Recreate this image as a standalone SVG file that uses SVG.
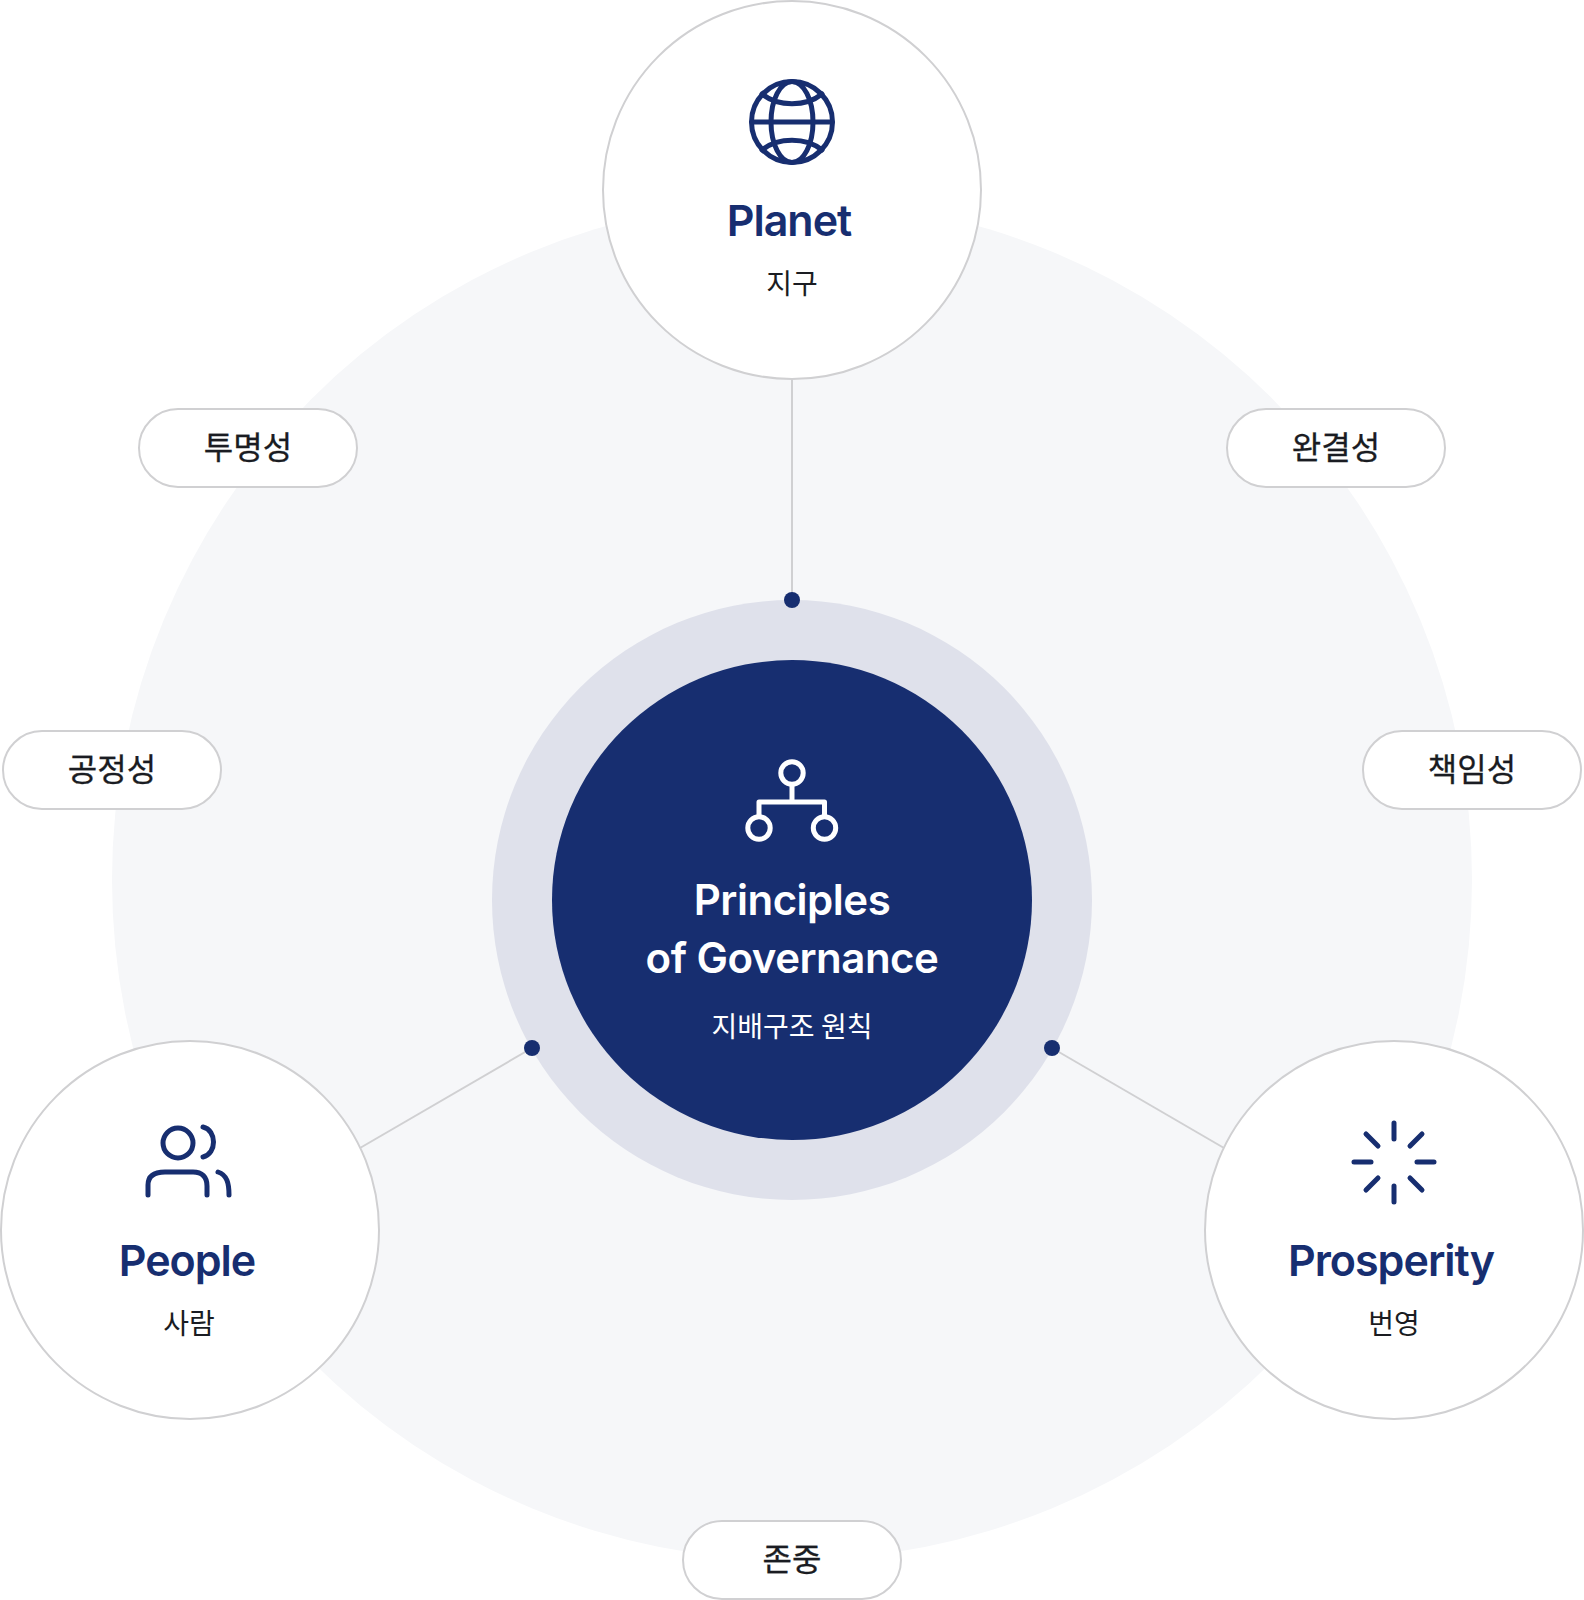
<svg xmlns="http://www.w3.org/2000/svg" width="1584" height="1600" viewBox="0 0 1584 1600">
<style>
text{text-anchor:middle;font-family:Inter,"Noto Sans CJK KR",sans-serif}
.node{fill:#fff;stroke:#d0d0d2;stroke-width:2}
.title{font-size:43px;font-weight:600;fill:#172e70;letter-spacing:-1px}
.ctitle{font-size:42px;font-weight:600;fill:#fff;letter-spacing:-.5px}
.sub{font-size:28px;fill:#1a1c22;font-family:"Noto Sans CJK KR",sans-serif}
.pill{font-size:32px;font-weight:400;fill:#1a1c22;font-family:"Noto Sans CJK KR",sans-serif;stroke:#1a1c22;stroke-width:.3px}
.ic{fill:none;stroke:#172e70;stroke-width:5;stroke-linecap:round;stroke-linejoin:round}
.iw{fill:none;stroke:#fff;stroke-width:5;stroke-linejoin:round}
.link{stroke:#d0d0d2;stroke-width:2;fill:none}
.dot{fill:#172e70}
</style>
<rect width="1584" height="1600" fill="#fff"/>
<circle id="background" cx="792" cy="880" r="680" fill="#f6f7f9"/>
<g id="center">
<circle cx="792" cy="900" r="300" fill="#dfe1eb"/>
<circle cx="792" cy="900" r="240" fill="#172e70"/>
<g class="iw"><circle cx="792" cy="773" r="11.2"/><circle cx="759" cy="828" r="11.2"/><circle cx="824.5" cy="828" r="11.2"/><path d="M792 785V802M759 816V802H824.5V816"/></g>
<text class="ctitle" x="792" y="915">Principles</text>
<text class="ctitle" x="792" y="973">of Governance</text>
<text x="792" y="1037" style="font-size:28px;fill:#fff;font-family:'Noto Sans CJK KR',sans-serif">지배구조 원칙</text>
</g>
<g id="connectors">
<line class="link" x1="792" y1="379" x2="792" y2="600"/>
<line class="link" x1="532" y1="1048" x2="360" y2="1148"/>
<line class="link" x1="1052" y1="1048" x2="1224" y2="1148"/>
<circle class="dot" cx="792" cy="600" r="8"/>
<circle class="dot" cx="532" cy="1048" r="8"/>
<circle class="dot" cx="1052" cy="1048" r="8"/>
</g>
<g id="planet">
<circle class="node" cx="792" cy="190" r="189"/>
<g class="ic"><circle cx="792" cy="122" r="40.5"/><ellipse cx="792" cy="122" rx="21" ry="40.5"/><path d="M752 122H832M762 94C778 107 806 107 822 94M762 150C778 137 806 137 822 150"/></g>
<text class="title" x="789" y="236">Planet</text>
<text class="sub" x="792" y="294">지구</text>
</g>
<g id="people">
<circle class="node" cx="190" cy="1230" r="189"/>
<g class="ic"><circle cx="178" cy="1143" r="15"/><path d="M203 1127C217 1130 217 1154 203 1157M148 1195V1185C148 1175 156 1172 165 1172H193C202 1172 207 1177 207 1186V1195M218 1172C227 1175 229 1183 229 1195"/></g>
<text class="title" x="187" y="1276">People</text>
<text class="sub" x="189" y="1334">사람</text>
</g>
<g id="prosperity">
<circle class="node" cx="1394" cy="1230" r="189"/>
<path class="ic" d="M1394 1123V1139M1394 1186V1202M1354 1162H1371M1417 1162H1434M1366 1134L1378 1146M1422 1134L1410 1146M1366 1190L1378 1178M1422 1190L1410 1178"/>
<text class="title" x="1391" y="1276">Prosperity</text>
<text class="sub" x="1394" y="1334">번영</text>
</g>
<g id="pill-transparency"><rect class="node" x="139" y="409" width="218" height="78" rx="39"/><text class="pill" x="248" y="459">투명성</text></g>
<g id="pill-integrity"><rect class="node" x="1227" y="409" width="218" height="78" rx="39"/><text class="pill" x="1336" y="459">완결성</text></g>
<g id="pill-fairness"><rect class="node" x="3" y="731" width="218" height="78" rx="39"/><text class="pill" x="112" y="781">공정성</text></g>
<g id="pill-responsibility"><rect class="node" x="1363" y="731" width="218" height="78" rx="39"/><text class="pill" x="1472" y="781">책임성</text></g>
<g id="pill-respect"><rect class="node" x="683" y="1521" width="218" height="78" rx="39"/><text class="pill" x="792" y="1571">존중</text></g>
</svg>
